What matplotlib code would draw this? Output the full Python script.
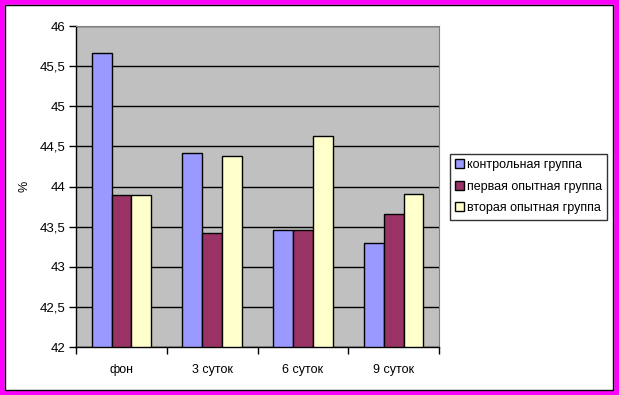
#!/usr/bin/env python3
"""Столбчатая диаграмма: три группы по суткам, в стиле Excel."""

import matplotlib
matplotlib.use("Agg")
import matplotlib.pyplot as plt
from matplotlib.patches import Rectangle
from matplotlib.ticker import FuncFormatter, FixedLocator, NullFormatter

categories = ["фон", "3 суток", "6 суток", "9 суток"]
series_names = ["контрольная группа", "первая опытная группа", "вторая опытная группа"]
control = [45.66, 44.42, 43.46, 43.30]
first_exp = [43.89, 43.42, 43.46, 43.66]
second_exp = [43.89, 44.38, 44.63, 43.91]
colors = ["#9999FF", "#993366", "#FFFFCC"]

plt.rcParams["font.family"] = ["Liberation Sans", "DejaVu Sans"]


def main() -> None:
    fig = plt.figure(figsize=(6.19, 3.95), dpi=100)
    ax = fig.add_axes([0.123, 0.1215, 0.586, 0.8125])
    ax.set_facecolor("#C0C0C0")

    width = 0.22
    centers = [i + 0.5 for i in range(len(categories))]
    for k, (vals, name) in enumerate(zip([control, first_exp, second_exp], series_names)):
        xs = [c + (k - 1) * width for c in centers]
        ax.bar(xs, [v - 42 for v in vals], width=width, bottom=42, color=colors[k],
               edgecolor="black", linewidth=1, label=name, zorder=3)

    ax.set_ylim(42, 46)
    ax.set_xlim(0, 4)
    ax.set_yticks([42 + 0.5 * i for i in range(9)])
    ax.yaxis.set_major_formatter(FuncFormatter(lambda v, _: f"{v:g}".replace(".", ",")))
    ax.grid(axis="y", color="black", linewidth=1, zorder=1)

    ax.xaxis.set_major_locator(FixedLocator([0, 1, 2, 3, 4]))
    ax.xaxis.set_major_formatter(NullFormatter())
    ax.xaxis.set_minor_locator(FixedLocator(centers))
    ax.set_xticklabels(categories, minor=True)
    ax.tick_params(axis="x", which="minor", length=0, pad=12, labelsize=9)
    ax.tick_params(axis="x", which="major", length=5, width=1, direction="out")
    ax.tick_params(axis="y", length=5, width=1, direction="out", labelsize=9.5, pad=3)

    for side in ["top", "right"]:
        ax.spines[side].set_color("#808080")
    for side in ["left", "bottom"]:
        ax.spines[side].set_color("black")
        ax.spines[side].set_linewidth(1)

    ax.set_ylabel("%", fontsize=9, labelpad=6)

    leg = ax.legend(loc="center left", bbox_to_anchor=(1.03, 0.5), fontsize=9,
                    frameon=True, fancybox=False, edgecolor="black",
                    handlelength=0.7, handleheight=0.7, handletextpad=0.2,
                    borderpad=0.45, labelspacing=0.75, borderaxespad=0)
    leg.get_frame().set_linewidth(1)

    # рамка вокруг всей диаграммы
    fig.patches.append(Rectangle((0.0035, 0.0055), 0.993, 0.989, transform=fig.transFigure,
                                 fill=False, edgecolor="#FF00FF", linewidth=4))
    fig.patches.append(Rectangle((0.0085, 0.0135), 0.981, 0.9745, transform=fig.transFigure,
                                 fill=False, edgecolor="black", linewidth=1))

    fig.savefig("out.png", dpi=100, facecolor="white")
    plt.close(fig)


if __name__ == "__main__":
    main()
